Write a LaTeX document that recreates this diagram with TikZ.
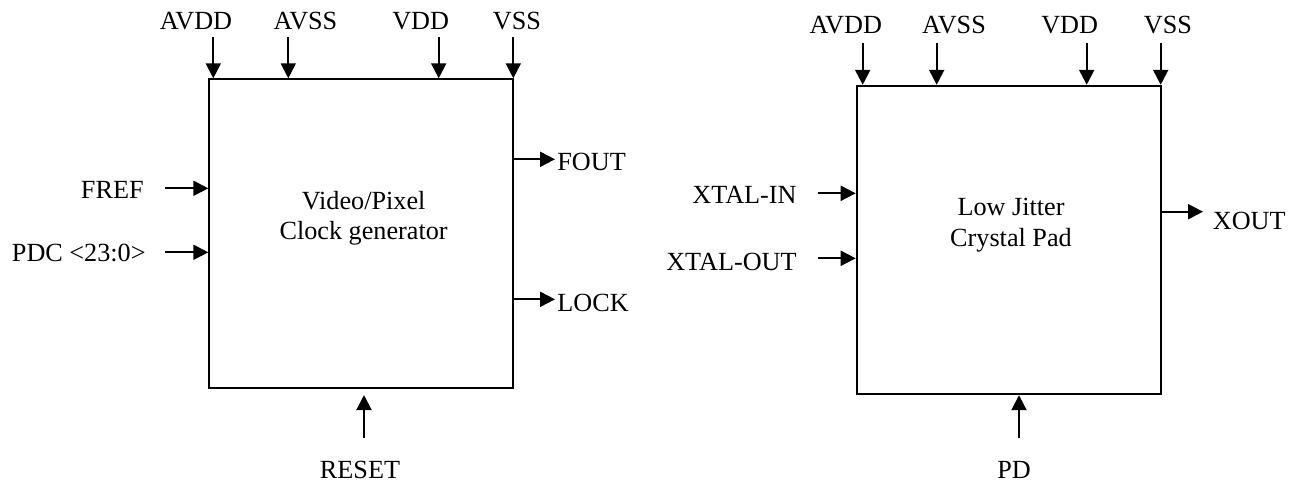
\documentclass[tikz,border=0pt]{standalone}
\usepackage{fontspec}
\setmainfont{Liberation Serif}
\usetikzlibrary{arrows.meta}

\begin{document}
\begin{tikzpicture}[x=0.5pt,y=-0.5pt,
        blk/.style={draw=black,line width=1pt,inner sep=0pt,minimum width=152pt,minimum height=154.2pt},
        lab/.style={inner sep=0pt,font=\fontsize{13.1}{15.4}\selectfont},
        sig/.style={line width=1pt,-{Triangle[length=7.5pt,width=7.5pt]}}]
      \useasboundingbox (0,0) rectangle (1296,483);
      % video/pixel clock generator
      \node[blk] (vpcg) at (361.3,233.5) {};
      \node[lab,align=center,anchor=north] (vpcgtxt) at (363.6,190.5) {Video/Pixel\\Clock generator};
      \foreach \x/\lx/\lab [count=\i] in {213.3/196/AVDD, 288.3/305.5/AVSS, 438.7/420.7/VDD, 513.3/517/VSS} {
        \node[lab] (lt\i) at (\lx,20.8) {\lab};
        \coordinate (ls\i) at (\x,36.7);
        \draw[sig] (ls\i) -- (ls\i |- vpcg.north);
      }
      \node[lab,anchor=east] (fref) at (144,190) {FREF};
      \node[lab,anchor=east] (pdc) at (146,253) {PDC <23:0>};
      \coordinate (frefin) at (164.8,188.3);
      \coordinate (pdcin) at (164.8,252.3);
      \draw[sig] (frefin) -- (frefin -| vpcg.west);
      \draw[sig] (pdcin) -- (pdcin -| vpcg.west);
      \node[lab,anchor=west] (fout) at (557,162) {FOUT};
      \node[lab,anchor=west] (lock) at (557,303) {LOCK};
      \coordinate (foutend) at (555,159.3);
      \coordinate (lockend) at (555,299.3);
      \draw[sig] (foutend -| vpcg.east) -- (foutend);
      \draw[sig] (lockend -| vpcg.east) -- (lockend);
      \node[lab] (reset) at (360,470) {RESET};
      \coordinate (resetin) at (364,438.3);
      \coordinate (resettip) at (364,395);
      \draw[sig] (resetin) -- (resettip);

      % low jitter crystal pad
      \node[blk] (xpad) at (1008.7,240) {};
      \node[lab,align=center,anchor=north] (xpadtxt) at (1011,198) {Low Jitter\\Crystal Pad};
      \foreach \x/\lx/\lab [count=\i] in {862.7/845.8/AVDD, 936.7/954/AVSS, 1086.7/1069.7/VDD, 1160.7/1168/VSS} {
        \node[lab] (rt\i) at (\lx,25) {\lab};
        \coordinate (rs\i) at (\x,43);
        \draw[sig] (rs\i) -- (rs\i |- xpad.north);
      }
      \node[lab,anchor=east] (xin) at (797,194.7) {XTAL-IN};
      \node[lab,anchor=east] (xoutpin) at (797,262) {XTAL-OUT};
      \coordinate (xinin) at (817.7,193.3);
      \coordinate (xoutin) at (817.7,258.3);
      \draw[sig] (xinin) -- (xinin -| xpad.west);
      \draw[sig] (xoutin) -- (xoutin -| xpad.west);
      \node[lab,anchor=west] (xout) at (1212.5,221) {XOUT};
      \coordinate (xoutend) at (1203,211.7);
      \draw[sig] (xoutend -| xpad.east) -- (xoutend);
      \node[lab] (pd) at (1014,470) {PD};
      \coordinate (pdin) at (1019,438.3);
      \draw[sig] (pdin) -- (pdin |- xpad.south);
    \end{tikzpicture}
\end{document}
